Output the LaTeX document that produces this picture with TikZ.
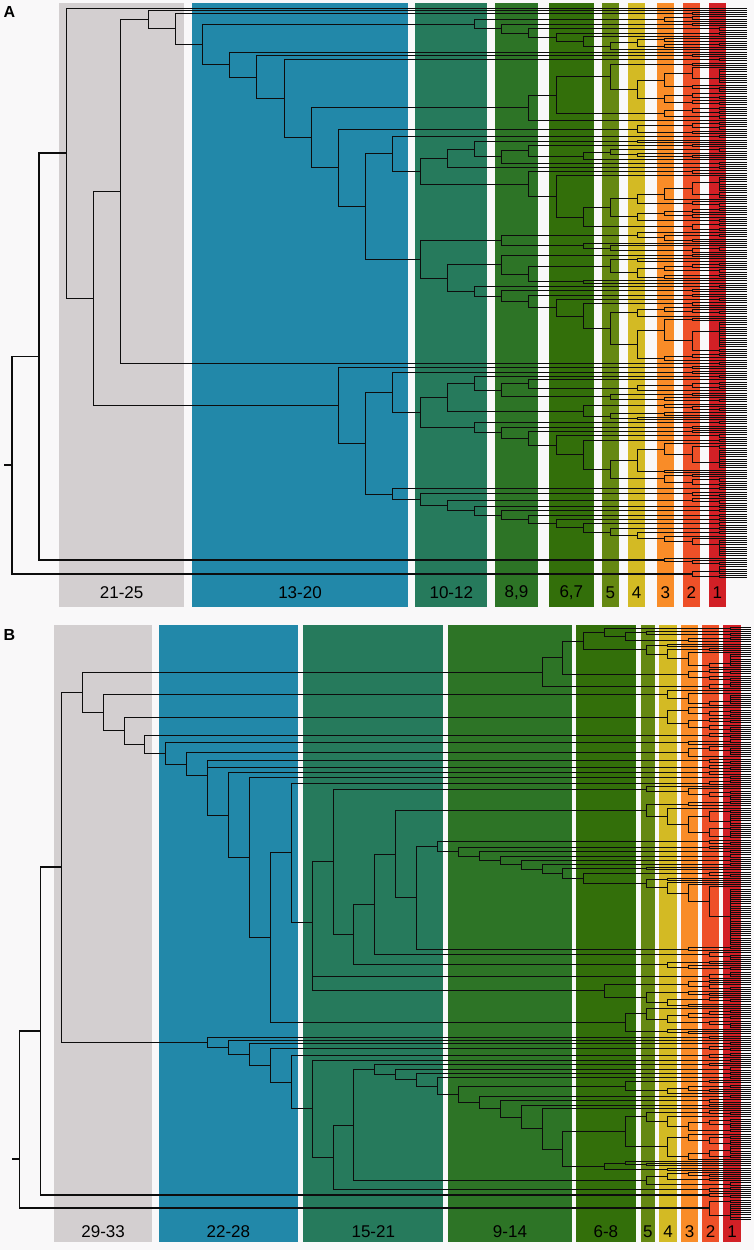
\documentclass[tikz,border=0pt]{standalone}
\usepackage{fontspec}
\setmainfont{Liberation Sans}
\usepackage{tikz}

\definecolor{cbg}{RGB}{249,248,249}
\definecolor{cgray}{RGB}{211,207,208}
\definecolor{cblue}{RGB}{34,136,169}
\definecolor{cteal}{RGB}{38,122,92}
\definecolor{cgreen}{RGB}{45,116,38}
\definecolor{cdgreen}{RGB}{51,111,10}
\definecolor{colive}{RGB}{101,136,18}
\definecolor{cyellow}{RGB}{211,186,36}
\definecolor{corange}{RGB}{249,140,40}
\definecolor{cred}{RGB}{238,80,40}
\definecolor{cdred}{RGB}{210,32,38}

% dendrogram machinery: every clade sits at an integer level
\newcount\leafno
\def\minlev#1{\ifnum#1<2 \def\ml{0}\else\ifnum#1<3 \def\ml{1}\else\ifnum#1<5 \def\ml{2}\else
  \ifnum#1<9 \def\ml{3}\else\ifnum#1<17 \def\ml{4}\else\ifnum#1<33 \def\ml{5}\else\def\ml{6}\fi\fi\fi\fi\fi\fi}
\def\leaf{%
  \pgfmathsetmacro\lfy{\ytop+\the\leafno*\ysp}%
  \global\advance\leafno by 1\relax
  \xdef\retY{\lfy}\gdef\retL{0}}
\def\clade#1#2#3{%
  \begingroup#2\endgroup
  \let\cyA\retY\let\clA\retL
  \begingroup#3\endgroup
  \let\cyB\retY\let\clB\retL
  \ifnum#1<\thk\relax\def\cw{0.9pt}\else\def\cw{1.7pt}\fi
  \draw[branch,line width=\cw] ({\xo-\xs*\clA},\cyA) -- ({\xo-\xs*#1},\cyA) -- ({\xo-\xs*#1},\cyB) -- ({\xo-\xs*\clB},\cyB);
  \pgfmathsetmacro\cym{(\cyA+\cyB)/2}%
  \xdef\retY{\cym}\xdef\retL{#1}}
\def\rclade#1#2{%
  \ifnum#2<2 \leaf\else
    \minlev{#2}%
    \pgfmathsetmacro\rcu{rnd}%
    \pgfmathtruncatemacro\rcl{max(1,min(#1,\ml+floor((#1-\ml+1)*\rcu*(0.5+0.5*\rcu))))}%
    \edef\rcnext{\noexpand\gclade{\rcl}{#2}}\rcnext
  \fi}
\def\gclade#1#2{%
  \ifnum#2<2 \leaf\else
    \pgfmathtruncatemacro\gcl{max(#1-1,1)}%
    \pgfmathrandominteger\gck{1}{100}%
    \ifnum\gck<41
      \ifnum#2<4 \def\gcm{1}\else\pgfmathrandominteger\gcm{1}{2}\fi
      \pgfmathtruncatemacro\gcb{#2-\gcm}%
      \pgfmathrandominteger\gcs{1}{100}%
      \ifnum\gcs<71
        \edef\gcnext{\noexpand\clade{#1}{\noexpand\rclade{\gcl}{\gcm}}{\noexpand\gclade{\gcl}{\gcb}}}%
      \else
        \edef\gcnext{\noexpand\clade{#1}{\noexpand\gclade{\gcl}{\gcb}}{\noexpand\rclade{\gcl}{\gcm}}}%
      \fi
    \else
      \pgfmathtruncatemacro\gcn{#2-1}%
      \pgfmathrandominteger\gck{1}{\gcn}%
      \pgfmathtruncatemacro\gcb{#2-\gck}%
      \edef\gcnext{\noexpand\clade{#1}{\noexpand\rclade{\gcl}{\gck}}{\noexpand\rclade{\gcl}{\gcb}}}%
    \fi
    \gcnext
  \fi}
\def\stairs#1#2#3{%
  \ifnum#2<1 \gclade{#1}{#3}\else
    \pgfmathtruncatemacro\stl{#1-1}%
    \pgfmathtruncatemacro\stk{#2-1}%
    \edef\stnext{\noexpand\clade{#1}{\noexpand\rclade{2}{2}}{\noexpand\stairs{\stl}{\stk}{#3}}}\stnext
  \fi}

% panel A
\def\Aiii{\clade{10}{\rclade{6}{3}}{\stairs{9}{3}{7}}}
\def\Aix{\clade{13}{\rclade{3}{2}}{\clade{12}{\clade{11}{\clade{10}{\rclade{4}{2}}{\clade{9}{\gclade{8}{8}}{\rclade{5}{2}}}}{\rclade{3}{2}}}{\gclade{8}{28}}}}
\def\Ai{\clade{12}{\gclade{9}{10}}{\clade{11}{\gclade{9}{14}}{\stairs{10}{5}{25}}}}
\def\Axa{\clade{13}{\rclade{2}{2}}{\clade{12}{\clade{11}{\clade{10}{\rclade{3}{2}}{\clade{9}{\gclade{8}{6}}{\gclade{5}{5}}}}{\gclade{6}{8}}}{\stairs{10}{5}{20}}}}
\def\Axb{\clade{13}{\rclade{3}{2}}{\clade{12}{\rclade{5}{3}}{\clade{11}{\rclade{5}{3}}{\stairs{10}{6}{12}}}}}
\def\Atop{\clade{16}{\gclade{8}{27}}{\clade{15}{\gclade{4}{6}}{\clade{14}{\Aix}{\Ai}}}}
\def\Acasc{\clade{22}{\leaf}{\clade{21}{\rclade{2}{2}}{\clade{20}{\Aiii}{\clade{19}{\leaf}{\clade{18}{\rclade{2}{2}}{\clade{17}{\rclade{2}{2}}{\Atop}}}}}}}
\def\Alow{\clade{15}{\rclade{2}{2}}{\clade{14}{\Axa}{\Axb}}}
\def\Atree{\clade{27}{\clade{26}{\clade{25}{\leaf}{\clade{24}{\clade{23}{\Acasc}{\rclade{2}{2}}}{\Alow}}}{\gclade{3}{4}}}{\gclade{2}{6}}}

% panel B
\def\Bi{\clade{10}{\clade{9}{\clade{8}{\gclade{7}{8}}{\gclade{5}{12}}}{\rclade{3}{6}}}{\rclade{2}{4}}}
\def\Bxv{\clade{15}{\rclade{2}{3}}{\clade{14}{\rclade{2}{2}}{\stairs{13}{4}{37}}}}
\def\Bxvii{\clade{17}{\gclade{5}{18}}{\clade{16}{\Bxv}{\rclade{3}{3}}}}
\def\Bxix{\clade{19}{\clade{18}{\Bxvii}{\rclade{3}{4}}}{\rclade{4}{5}}}
\def\Bxxi{\clade{21}{\clade{20}{\gclade{5}{7}}{\Bxix}}{\clade{21}{\rclade{2}{4}}{\gclade{7}{13}}}}
\def\Bxxiii{\clade{23}{\clade{22}{\rclade{3}{3}}{\Bxxi}}{\gclade{6}{13}}}
\def\Bxxvi{\clade{26}{\rclade{2}{3}}{\clade{26}{\rclade{2}{3}}{\clade{25}{\rclade{2}{2}}{\clade{24}{\rclade{2}{2}}{\Bxxiii}}}}}
\def\Bup{\clade{32}{\Bi}{\clade{31}{\gclade{4}{8}}{\clade{30}{\gclade{4}{12}}{\clade{29}{\rclade{2}{3}}{\clade{28}{\rclade{3}{3}}{\clade{27}{\gclade{3}{6}}{\Bxxvi}}}}}}}
\def\BE{\clade{17}{\rclade{3}{2}}{\clade{16}{\rclade{3}{2}}{\clade{15}{\rclade{3}{2}}{\clade{14}{\gclade{6}{7}}{\stairs{13}{3}{30}}}}}}
\def\Bcore{\clade{20}{\clade{19}{\clade{18}{\rclade{2}{2}}{\BE}}{\gclade{5}{7}}}{\gclade{2}{3}}}
\def\Blow{\clade{26}{\rclade{2}{2}}{\clade{25}{\leaf}{\clade{24}{\rclade{2}{2}}{\clade{23}{\rclade{2}{3}}{\clade{22}{\rclade{2}{3}}{\clade{21}{\rclade{2}{2}}{\Bcore}}}}}}}
\def\Btree{\clade{35}{\clade{34}{\clade{33}{\Bup}{\Blow}}{\gclade{2}{3}}}{\gclade{2}{10}}}

\begin{document}
\begin{tikzpicture}[x=1pt,y=-1pt,
    branch/.style={draw=black!95, line join=miter},
    bandlab/.style={font=\fontsize{17}{20}\selectfont, inner sep=0pt, text=black},
    panel/.style={font=\bfseries\fontsize{16}{18}\selectfont, inner sep=0pt}
]
\fill[cbg] (0,0) rectangle (754,1250);
\useasboundingbox (0,0) rectangle (754,1250);

% bands of panel A
\foreach \xa/\xb/\col/\txt [count=\i] in {59/184.3/cgray/21-25, 192.3/407.7/cblue/13-20,
    415.3/487.3/cteal/10-12, 495.3/537.7/cgreen/{8,9}, 548.7/594/cdgreen/{6,7},
    601.7/619/colive/5, 627.7/645.3/cyellow/4, 656.7/674/corange/3,
    682.7/700/cred/2, 708.7/726/cdred/1} {
  \fill[\col] (\xa,3) rectangle (\xb,607);
  \node[bandlab] (la\i) at ({(\xa+\xb)/2},593) {\txt};
}
% bands of panel B
\foreach \xa/\xb/\col/\txt [count=\i] in {54/152.3/cgray/29-33, 158.7/298/cblue/22-28,
    303.3/443.3/cteal/15-21, 448.3/571.7/cgreen/9-14, 576/635.7/cdgreen/6-8,
    640.7/655/colive/5, 659.3/676.7/cyellow/4, 680.7/698.3/corange/3,
    702.3/719/cred/2, 723.3/740.7/cdred/1} {
  \fill[\col] (\xa,625) rectangle (\xb,1242);
  \node[bandlab] (lb\i) at ({(\xa+\xb)/2},1231.5) {\txt};
}
\node[panel] (pa) at (9.5,11.5) {A};
\node[panel] (pb) at (9.5,634.5) {B};

% tree A
\pgfmathsetseed{7}
\def\ytop{8}\def\ysp{2.2}\def\xo{746.5}\def\xs{27.2}\def\thk{26}
\global\leafno=0
\Atree
\draw[branch,line width=1.7pt] (4,\retY) -- ({\xo-\xs*27},\retY);

% tree B
\def\ytop{627}\def\ysp{2.13}\def\xo{751}\def\xs{20.9}\def\thk{34}
\global\leafno=0
\Btree
\draw[branch,line width=1.7pt] (12,1159) -- ({\xo-\xs*35},1159);
\end{tikzpicture}
\end{document}
